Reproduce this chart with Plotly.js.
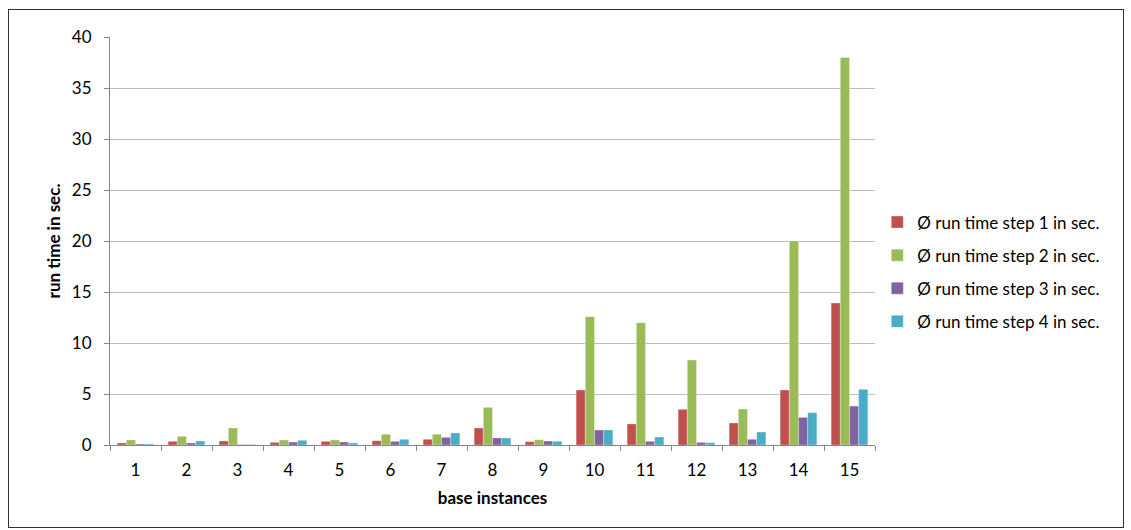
<!DOCTYPE html>
<html>
<head>
<meta charset="utf-8">
<script src="https://cdn.plot.ly/plotly-3.0.1.min.js"></script>
<style>
  html, body { margin: 0; padding: 0; background: #fff; }
  #wrap { position: relative; width: 1131px; height: 530px; }
  #chart { position: absolute; left: 0; top: 0; width: 1131px; height: 530px; }
  #frame { position: absolute; left: 8px; top: 9px; width: 1114px; height: 517px; border: 1px solid #333; pointer-events: none; }
</style>
</head>
<body>
<div id="wrap">
  <div id="chart"></div>
  <div id="frame"></div>
</div>
<script>
const categories = ["1","2","3","4","5","6","7","8","9","10","11","12","13","14","15"];
const step1 = [0.20, 0.36, 0.39, 0.26, 0.36, 0.42, 0.56, 1.67, 0.33, 5.39, 2.06, 3.50, 2.16, 5.39, 13.92];
const step2 = [0.49, 0.85, 1.67, 0.49, 0.49, 1.05, 1.05, 3.69, 0.52, 12.58, 11.99, 8.33, 3.53, 20.00, 38.00];
const step3 = [0.10, 0.20, 0.05, 0.29, 0.29, 0.36, 0.75, 0.69, 0.39, 1.47, 0.36, 0.26, 0.56, 2.71, 3.82];
const step4 = [0.10, 0.39, 0.05, 0.46, 0.20, 0.56, 1.18, 0.69, 0.36, 1.47, 0.78, 0.23, 1.27, 3.17, 5.46];
const seriesNames = ["Ø run time step 1 in sec.", "Ø run time step 2 in sec.", "Ø run time step 3 in sec.", "Ø run time step 4 in sec."];
const seriesColors = ["#C0504D", "#9BBB59", "#8064A2", "#4BACC6"];
const yTicks = [0, 5, 10, 15, 20, 25, 30, 35, 40];

const allSeries = [step1, step2, step3, step4];
const traces = allSeries.map((vals, i) => ({
  type: "bar",
  name: seriesNames[i],
  x: categories,
  y: vals,
  legendgroup: "g" + i,
  marker: { color: seriesColors[i], line: { color: "rgba(255,255,255,0.6)", width: 0.5 } },
  hoverinfo: "x+y+name"
}));

const fontFam = "Lato, 'Open Sans', 'Liberation Sans', sans-serif";
const fs = 17;
const layout = {
  width: 1131,
  height: 530,
  margin: { l: 110, r: 256, t: 37, b: 85 },
  paper_bgcolor: "#ffffff",
  plot_bgcolor: "#ffffff",
  font: { family: fontFam, size: fs, color: "#000" },
  barmode: "group",
  bargap: 0.28,
  bargroupgap: 0,
  showlegend: true,
  legend: {
    x: 1.003, xanchor: "left",
    y: 0.424, yanchor: "middle",
    traceorder: "grouped",
    tracegroupgap: 8,
    font: { family: fontFam, size: fs, color: "#000" },
    itemwidth: 30,
    bgcolor: "rgba(0,0,0,0)"
  },
  xaxis: {
    type: "category",
    tickson: "boundaries",
    ticks: "outside",
    ticklen: 5,
    tickcolor: "#868686",
    showline: true,
    linecolor: "#868686",
    linewidth: 1,
    showgrid: false,
    zeroline: false,
    ticklabelstandoff: 10,
    tickfont: { family: fontFam, size: fs, color: "#000" },
    title: { text: "<b>base instances</b>", font: { family: fontFam, size: fs, color: "#000" }, standoff: 12 }
  },
  yaxis: {
    range: [0, 40],
    tickvals: yTicks,
    ticktext: yTicks.map(String),
    ticks: "outside",
    ticklen: 5,
    tickcolor: "#868686",
    showline: true,
    linecolor: "#868686",
    linewidth: 1,
    showgrid: true,
    gridcolor: "#BEBEBE",
    gridwidth: 1,
    zeroline: false,
    ticklabelstandoff: 9,
    tickfont: { family: fontFam, size: fs, color: "#000" },
    title: { text: "<b>run time in sec.</b>", font: { family: fontFam, size: fs, color: "#000" }, standoff: 6 }
  }
};

Plotly.newPlot("chart", traces, layout, { displayModeBar: false, staticPlot: true });
</script>
</body>
</html>
